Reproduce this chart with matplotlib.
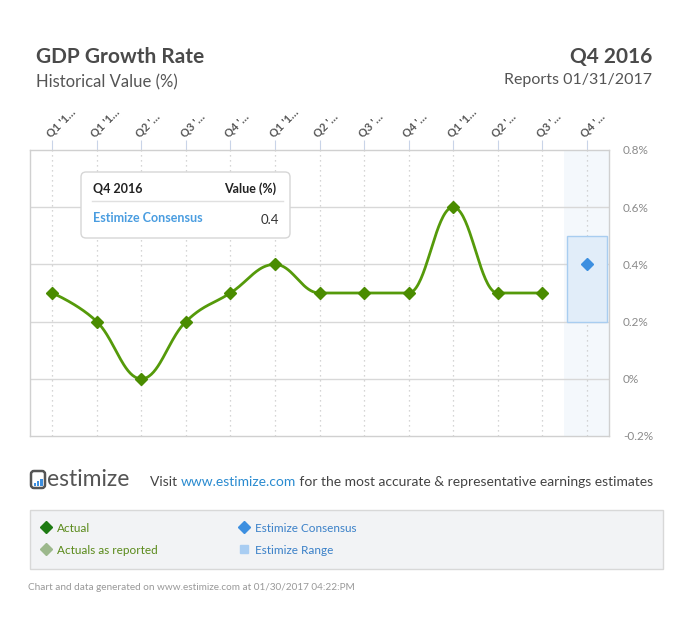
import numpy as np
import matplotlib
matplotlib.use("Agg")
import matplotlib.pyplot as plt
from matplotlib.patches import Rectangle, FancyBboxPatch
from matplotlib.offsetbox import HPacker, TextArea, AnchoredOffsetbox

plt.rcParams['font.family'] = ['Lato', 'DejaVu Sans']

# ---- data ----
quarters = ["Q1 '1…", "Q1 '1…", "Q2 '…", "Q3 '…", "Q4 '…", "Q1 '1…", "Q2 '…",
            "Q3 '…", "Q4 '…", "Q1 '1…", "Q2 '…", "Q3 '…", "Q4 '…"]
actual = [0.3, 0.2, 0.0, 0.2, 0.3, 0.4, 0.3, 0.3, 0.3, 0.6, 0.3, 0.3]
consensus = 0.4
range_low, range_high = 0.2, 0.5
y_ticks = [0.8, 0.6, 0.4, 0.2, 0.0, -0.2]
y_labels = ["0.8%", "0.6%", "0.4%", "0.2%", "0%", "-0.2%"]

W, H = 685, 620
fig = plt.figure(figsize=(W / 100, H / 100), dpi=100)
fig.patch.set_facecolor('white')


def P(x, y):
    return x / W, 1 - y / H


def spline(xs, ys, smoothing=1.5, n=40):
    """Highcharts-style spline through the points."""
    xs = list(xs); ys = list(ys)
    m = len(xs)
    lc = [None] * m
    rc = [None] * m
    denom = smoothing + 1
    for i in range(m):
        if 0 < i < m - 1:
            lx, ly = xs[i - 1], ys[i - 1]
            nx, ny = xs[i + 1], ys[i + 1]
            px_, py = xs[i], ys[i]
            lcx = (smoothing * px_ + lx) / denom
            lcy = (smoothing * py + ly) / denom
            rcx = (smoothing * px_ + nx) / denom
            rcy = (smoothing * py + ny) / denom
            if rcx != lcx:
                corr = ((rcy - lcy) * (rcx - px_)) / (rcx - lcx) + py - rcy
                lcy += corr
                rcy += corr
            if lcy > ly and lcy > py:
                lcy = max(ly, py); rcy = 2 * py - lcy
            elif lcy < ly and lcy < py:
                lcy = min(ly, py); rcy = 2 * py - lcy
            if rcy > ny and rcy > py:
                rcy = max(ny, py); lcy = 2 * py - rcy
            elif rcy < ny and rcy < py:
                rcy = min(ny, py); lcy = 2 * py - rcy
            lc[i] = (lcx, lcy); rc[i] = (rcx, rcy)
        else:
            lc[i] = (xs[i], ys[i]); rc[i] = (xs[i], ys[i])
    outx, outy = [], []
    t = np.linspace(0, 1, n)
    for i in range(1, m):
        p0 = np.array([xs[i - 1], ys[i - 1]])
        p1 = np.array(rc[i - 1])
        p2 = np.array(lc[i])
        p3 = np.array([xs[i], ys[i]])
        b = ((1 - t) ** 3)[:, None] * p0 + (3 * (1 - t) ** 2 * t)[:, None] * p1 \
            + (3 * (1 - t) * t ** 2)[:, None] * p2 + (t ** 3)[:, None] * p3
        outx.extend(b[:, 0]); outy.extend(b[:, 1])
    return outx, outy


# ---- axes ----
ax = fig.add_axes([30 / W, (H - 436) / H, 579 / W, 286 / H])
n = len(quarters)
x = np.arange(n)
ax.set_xlim(-0.5, n - 0.5)
ax.set_ylim(-0.2, 0.8)

# highlighted (estimate) column
ax.axvspan(n - 1.5, n - 0.5, color='#f4f8fc', zorder=0, lw=0)

for yv in [0.6, 0.4, 0.2, 0.0]:
    ax.axhline(yv, color='#d8d8d8', lw=1, zorder=1)
for xv in x:
    ax.axvline(xv, color='#c8c8c8', lw=0.9, ls=(0, (1, 3)), zorder=1)

# range box
ax.add_patch(Rectangle((n - 1 - 0.45, range_low), 0.9, range_high - range_low,
                       facecolor='#e1edf9', edgecolor='#a8cdf0', lw=1, zorder=2))

sx, sy = spline(x[:len(actual)], actual)
ax.plot(sx, sy, color='#559a0a', lw=2, zorder=3, solid_capstyle='round')
ax.plot(x[:len(actual)], actual, ls='none', marker='D', ms=6.5,
        color='#4a8c00', zorder=4)
ax.plot([n - 1], [consensus], ls='none', marker='D', ms=6.5, color='#3d8fe0', zorder=4)

for s in ax.spines.values():
    s.set_color('#d0d0d0')
    s.set_linewidth(1)

ax.xaxis.tick_top()
ax.set_xticks(x)
ax.set_xticklabels(quarters, rotation=45, ha='left', va='bottom',
                   rotation_mode='anchor', fontsize=8, color='#555555',
                   fontweight='bold')
ax.tick_params(axis='x', length=7, color='#c9d4e8', pad=1)
ax.yaxis.tick_right()
ax.set_yticks(y_ticks)
ax.set_yticklabels(y_labels, fontsize=8.5, color='#8a8a8a')
ax.tick_params(axis='y', length=0, pad=10)

# overlay axes in pixel coordinates
ax_t = fig.add_axes([0, 0, 1, 1], facecolor='none')
ax_t.set_xlim(0, W); ax_t.set_ylim(H, 0); ax_t.axis('off')

# tooltip
ax_t.add_patch(FancyBboxPatch((81, 172), 209, 66, boxstyle='round,pad=0,rounding_size=5',
                              facecolor='white', edgecolor='#d6d6d6', lw=1, zorder=5))
ax_t.plot([92, 283], [201, 201], color='#e0e0e0', lw=1, zorder=6)
ax_t.text(93, 189, "Q4 2016", fontsize=9, fontweight='bold', color='#222222',
          va='center', ha='left', zorder=6)
ax_t.text(276, 189, "Value (%)", fontsize=9, fontweight='bold', color='#222222',
          va='center', ha='right', zorder=6)
ax_t.text(93, 218, "Estimize Consensus", fontsize=9, fontweight='bold', color='#4a9de0',
          va='center', ha='left', zorder=6)
ax_t.text(279, 220, "0.4", fontsize=9.5, color='#333333', va='center', ha='right', zorder=6)

# header
ax_t.text(36, 57, "GDP Growth Rate", fontsize=15, fontweight='bold', color='#4a4a4a',
          va='center', ha='left')
ax_t.text(36, 82, "Historical Value (%)", fontsize=12, color='#555555',
          va='center', ha='left')
ax_t.text(652, 57, "Q4 2016", fontsize=15, fontweight='bold', color='#4a4a4a',
          va='center', ha='right')
ax_t.text(652, 80, "Reports 01/31/2017", fontsize=11.5, color='#555555',
          va='center', ha='right')

# logo
ax_t.add_patch(FancyBboxPatch((31, 471), 14, 17, boxstyle='round,pad=0,rounding_size=3',
                              facecolor='white', edgecolor='#555555', lw=1.8))
for i, hgt in enumerate([3, 5, 7]):
    ax_t.add_patch(Rectangle((34 + i * 3.2, 486 - hgt), 2.2, hgt, color='#3d8fe0', lw=0))
ax_t.text(47, 480, "estimize", fontsize=16.5, color='#555555', va='center', ha='left')

parts = [("Visit ", '#444444'), ("www.estimize.com", '#2a8bd0'),
         (" for the most accurate & representative earnings estimates", '#444444')]
boxes = [TextArea(s, textprops=dict(fontsize=10, color=c)) for s, c in parts]
hp = HPacker(children=boxes, align='baseline', pad=0, sep=0)
ab = AnchoredOffsetbox(loc='center left', child=hp, frameon=False, pad=0, borderpad=0,
                       bbox_to_anchor=P(150, 482), bbox_transform=fig.transFigure)
ax_t.add_artist(ab)

# legend box
ax_t.add_patch(Rectangle((30, 510), 633, 59, facecolor='#f2f3f5', edgecolor='#d8d8d8', lw=1))
ax_t.plot([46], [527], marker='D', ms=6, color='#1d7a12', ls='none')
ax_t.text(57, 528, "Actual", fontsize=8.5, color='#5a8a1a', va='center', ha='left')
ax_t.plot([46], [549], marker='D', ms=6, color='#9cb88c', ls='none')
ax_t.text(57, 550, "Actuals as reported", fontsize=8.5, color='#5a8a1a', va='center', ha='left')
ax_t.plot([244], [527], marker='D', ms=6, color='#3d8fe0', ls='none')
ax_t.text(255, 528, "Estimize Consensus", fontsize=8.5, color='#3a80c8', va='center', ha='left')
ax_t.plot([244], [549], marker='s', ms=5.5, color='#a9cdf2', ls='none')
ax_t.text(255, 550, "Estimize Range", fontsize=8.5, color='#3a80c8', va='center', ha='left')

ax_t.text(28, 588, "Chart and data generated on www.estimize.com at 01/30/2017 04:22:PM",
          fontsize=7.2, color='#999999', va='center', ha='left')

fig.savefig("out.png", dpi=100, facecolor='white')
